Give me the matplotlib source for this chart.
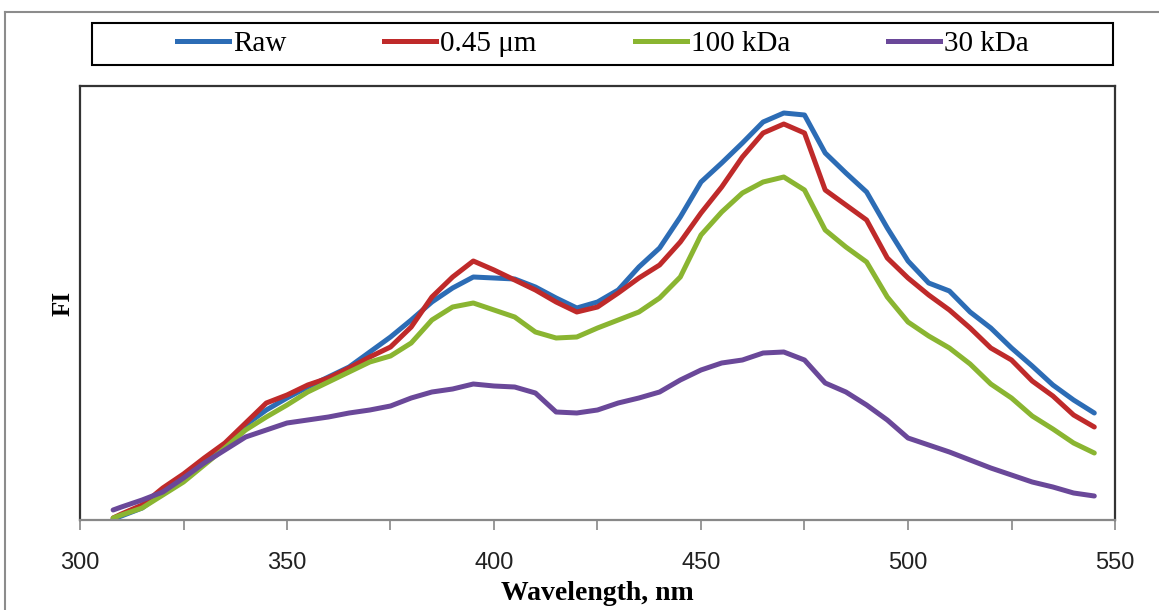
import matplotlib
matplotlib.use("Agg")
import matplotlib.pyplot as plt
from matplotlib.lines import Line2D
from matplotlib.patches import Rectangle
from matplotlib.ticker import MultipleLocator

# wavelength (nm)
wavelength = [308, 310, 315, 320, 325, 330, 335, 340, 345, 350, 355, 360, 365,
              370, 375, 380, 385, 390, 395, 400, 405, 410, 415, 420, 425, 430,
              435, 440, 445, 450, 455, 460, 465, 470, 475, 480, 485, 490, 495,
              500, 505, 510, 515, 520, 525, 530, 535, 540, 545]

# fluorescence intensity (arbitrary units)
raw = [1, 4, 12, 27, 40, 57, 73, 95, 110, 122, 133, 143, 153,
       168, 183, 200, 218, 232, 243, 242, 241, 233, 222, 212, 218, 230,
       253, 272, 303, 338, 357, 377, 398, 407, 405, 367, 347, 328, 292,
       259, 237, 229, 208, 192, 172, 154, 135, 120, 107]
um045 = [2, 6, 15, 32, 46, 62, 77, 97, 117, 125, 135, 142, 152,
         163, 173, 193, 223, 243, 259, 250, 240, 230, 218, 208, 213, 227,
         242, 255, 278, 307, 333, 363, 387, 396, 387, 330, 315, 300, 262,
         242, 225, 210, 192, 172, 160, 139, 124, 105, 93]
kda100 = [2, 5, 12, 25, 38, 55, 72, 90, 103, 115, 128, 138, 148,
          158, 164, 177, 200, 213, 217, 210, 203, 188, 182, 183, 192, 200,
          208, 222, 243, 285, 308, 327, 338, 343, 330, 290, 273, 258, 223,
          198, 184, 172, 156, 136, 122, 104, 91, 77, 67]
kda30 = [10, 13, 20, 28, 42, 57, 70, 83, 90, 97, 100, 103, 107,
         110, 114, 122, 128, 131, 136, 134, 133, 127, 108, 107, 110, 117,
         122, 128, 140, 150, 157, 160, 167, 168, 160, 137, 128, 115, 100,
         82, 75, 68, 60, 52, 45, 38, 33, 27, 24]

series = [("Raw", raw, "#2C6CB5"),
          ("0.45 \u03bcm", um045, "#BF2A2A"),
          ("100 kDa", kda100, "#8AB531"),
          ("30 kDa", kda30, "#6A4899")]

W, H = 1159, 610
fig = plt.figure(figsize=(W / 100, H / 100), dpi=100)
ax = fig.add_axes([80 / W, 1 - 520 / H, (1115 - 80) / W, (520 - 86) / H])

for name, vals, col in series:
    ax.plot(wavelength, vals, color=col, lw=3.6, label=name,
            solid_capstyle="round")

ax.set_xlim(300, 550)
ax.set_ylim(0, 434)
ax.xaxis.set_major_locator(MultipleLocator(50))
ax.xaxis.set_minor_locator(MultipleLocator(25))
ax.set_yticks([])
ax.tick_params(axis="x", which="both", direction="out", length=7,
               width=1.2, color="#888888", pad=16)
for lab in ax.get_xticklabels():
    lab.set_family("Liberation Sans")
    lab.set_fontsize(17)
    lab.set_color("#222222")

for s in ["left", "top", "right"]:
    ax.spines[s].set_color("#333333")
    ax.spines[s].set_linewidth(1.6)
ax.spines["bottom"].set_color("#888888")
ax.spines["bottom"].set_linewidth(1.6)

ax.set_xlabel("Wavelength, nm", family="Liberation Serif", weight="bold",
              fontsize=20, labelpad=5)
ax.set_ylabel("FI", family="Liberation Serif", weight="bold", fontsize=18,
              labelpad=4)

# legend box
bx0, by0, bx1, by1 = 92, 23, 1113, 65
fig.add_artist(Rectangle((bx0 / W, 1 - by1 / H), (bx1 - bx0) / W,
                         (by1 - by0) / H, transform=fig.transFigure,
                         fill=False, edgecolor="black", lw=1.5))
handles = [Line2D([], [], color=c, lw=3.6) for _, _, c in series]
fig.legend(handles, [n for n, _, _ in series], loc="center",
           bbox_to_anchor=(603 / W, 1 - 44 / H), ncol=4, frameon=False,
           prop={"family": "Liberation Serif", "size": 21},
           handlelength=1.78, handletextpad=0.14, columnspacing=3.36)

# chart area border
fig.add_artist(Line2D([5 / W, 1.01], [1 - 12 / H, 1 - 12 / H],
                      transform=fig.transFigure, color="#8c8c8c", lw=1.5))
fig.add_artist(Line2D([5 / W, 5 / W], [1 - 12 / H, -0.01],
                      transform=fig.transFigure, color="#8c8c8c", lw=1.5))

fig.savefig("out.png", dpi=100)
